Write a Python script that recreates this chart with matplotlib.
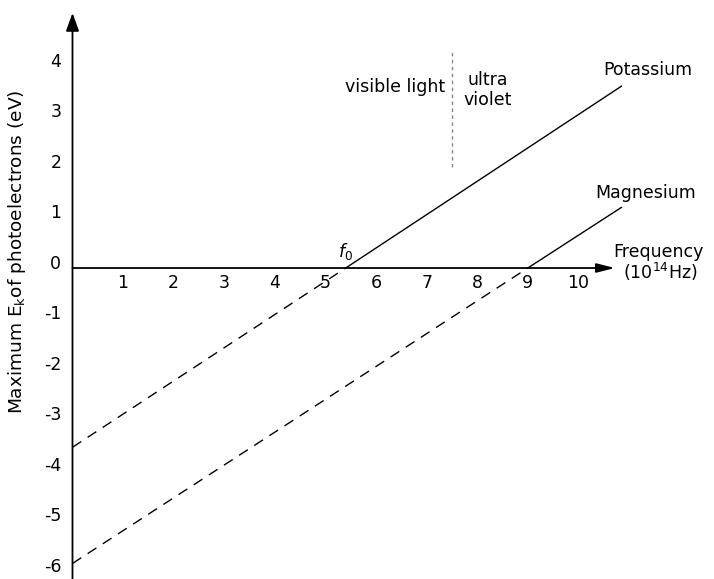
import matplotlib
matplotlib.use("Agg")
import matplotlib.pyplot as plt

# Photoelectric effect: max kinetic energy against frequency for two metals
freq_ticks = [1, 2, 3, 4, 5, 6, 7, 8, 9, 10]
energy_ticks = [4, 3, 2, 1, 0, -1, -2, -3, -4, -5, -6]

# (frequency in 1e14 Hz, energy in eV): extrapolated intercept, threshold, end
potassium_f = [0.0, 5.4, 10.85]
potassium_e = [-3.55, 0.0, 3.6]
magnesium_f = [0.0, 9.0, 10.85]
magnesium_e = [-5.85, 0.0, 1.2]

uv_boundary_f = 7.5
uv_boundary_e = [2.0, 4.3]

plt.rcParams["font.family"] = ["DejaVu Sans"]
FS = 12.5

fig = plt.figure(figsize=(7.14, 5.79), dpi=100)
ax = fig.add_axes([0, 0, 1, 1])
ax.set_xlim(-1.433, 12.68)
ax.set_ylim(-6.158, 5.307)
ax.axis("off")

# axes drawn by hand, with arrow heads
ax.annotate("", xy=(0, 5.05), xytext=(0, -6.2),
            arrowprops=dict(arrowstyle="-|>,head_length=1.1,head_width=0.4",
                            color="black", lw=1.3, shrinkA=0, shrinkB=0))
ax.annotate("", xy=(10.72, 0), xytext=(0, 0),
            arrowprops=dict(arrowstyle="-|>,head_length=1.1,head_width=0.28",
                            color="black", lw=1.3, shrinkA=0, shrinkB=0))

for f in freq_ticks:
    ax.text(f, -0.30, str(f), ha="center", va="center", fontsize=FS)
for e in energy_ticks:
    ax.text(-0.22, e + 0.08, str(e), ha="right", va="center", fontsize=FS)

# solid above threshold, dashed extrapolation below
for fs, es in [(potassium_f, potassium_e), (magnesium_f, magnesium_e)]:
    ax.plot(fs[:2], es[:2], color="black", lw=1.0, ls=(0, (7.5, 5.5)))
    ax.plot(fs[1:], es[1:], color="black", lw=1.0)

ax.plot([uv_boundary_f] * 2, uv_boundary_e, color="#888888", lw=1.0,
        ls=(0, (2.5, 2.5)))

ax.text(7.36, 3.58, "visible light", ha="right", va="center", fontsize=FS)
ax.text(8.21, 3.52, "ultra\nviolet", ha="center", va="center", fontsize=FS,
        linespacing=1.15)
ax.text(11.37, 3.92, "Potassium", ha="center", va="center", fontsize=FS)
ax.text(11.33, 1.49, "Magnesium", ha="center", va="center", fontsize=FS)
ax.text(5.39, 0.33, r"$f_{\mathit{0}}$", ha="center", va="center", fontsize=FS)

ax.text(10.68, 0.32, "Frequency", ha="left", va="center", fontsize=FS)
ax.text(10.88, -0.08, r"(10$^{\mathregular{14}}$Hz)", ha="left", va="center",
        fontsize=FS)

ax.text(-1.09, 0.32, r"Maximum E$_{\mathregular{k}}$of photoelectrons (eV)",
        rotation=90, ha="center", va="center", fontsize=13.3)

fig.savefig("out.png", dpi=100)
